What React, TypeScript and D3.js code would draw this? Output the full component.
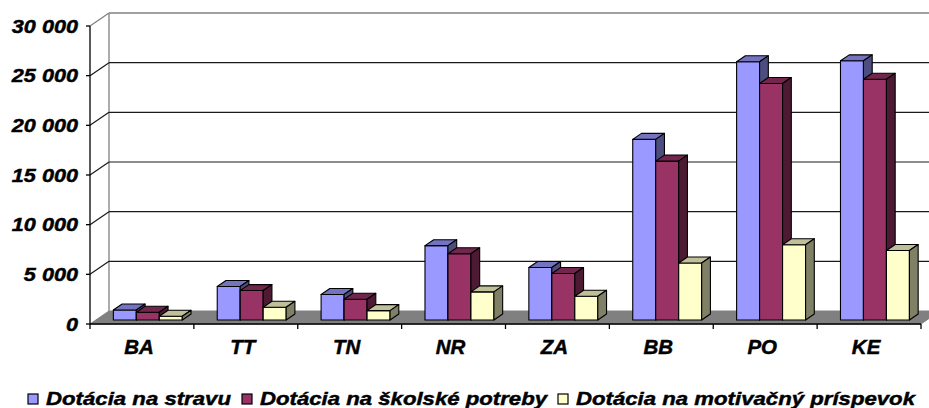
import * as d3 from "d3";

// regions and dotations (EUR)
const categories = ["BA", "TT", "TN", "NR", "ZA", "BB", "PO", "KE"];
const seriesNames = [
  "Dotácia na stravu",
  "Dotácia na školské potreby",
  "Dotácia na motivačný príspevok",
];
const stravaValues = [1000, 3370, 2560, 7480, 5280, 18180, 25990, 26090];
const potrebyValues = [780, 2960, 2090, 6670, 4680, 15990, 23810, 24240];
const motivValues = [380, 1280, 940, 2830, 2390, 5730, 7580, 7000];
const yTicks = [0, 5000, 10000, 15000, 20000, 25000, 30000];

const colors = ["#9999FF", "#993366", "#FFFFCC"];

const W = 929;
const H = 408;
const FONT = "'Liberation Sans', Arial, sans-serif";

// floor depth of the 3d box
const DX = 19;
const DY = -13;
// bar sits between these depth fractions
const T1 = 0.31;
const T2 = 0.77;

const shade = (c: string, k: number) => {
  const r = d3.rgb(c);
  return d3.rgb(r.r * k, r.g * k, r.b * k).formatHex();
};

const fmt = d3
  .formatLocale({ decimal: ",", thousands: " ", grouping: [3], currency: ["", ""] })
  .format(",d");

// heavier text like the original raster
const textStyle = {
  fontWeight: "bold",
  fontStyle: "italic",
  fontFamily: FONT,
  stroke: "#000",
  strokeWidth: 0.45,
} as const;

export default function App() {
  const seriesValues = [stravaValues, potrebyValues, motivValues];

  const x = d3.scaleBand<string>().domain(categories).range([90, 921]);
  const xs = d3
    .scaleBand<string>()
    .domain(seriesNames)
    .range([0, x.bandwidth()])
    .paddingOuter(0.76);
  const y = d3.scaleLinear().domain([0, 30000]).range([324, 26]);

  const x0 = 90;
  const x1 = 921;
  const y0 = y(0);
  const yTop = y(30000);

  const bars: JSX.Element[] = [];
  categories.forEach((cat, i) => {
    seriesNames.forEach((name, j) => {
      const v = seriesValues[j][i];
      const bx = (x(cat) ?? 0) + (xs(name) ?? 0) + T1 * DX;
      const w = xs.bandwidth();
      const yb = y0 + T1 * DY;
      const yt = y(v) + T1 * DY;
      const ddx = (T2 - T1) * DX;
      const ddy = (T2 - T1) * DY;
      const c = colors[j];
      bars.push(
        <g key={cat + j} stroke="#000" strokeWidth={1.1} strokeLinejoin="round">
          <rect x={bx} y={yt} width={w} height={yb - yt} fill={c} />
          <polygon
            points={`${bx},${yt} ${bx + ddx},${yt + ddy} ${bx + w + ddx},${yt + ddy} ${bx + w},${yt}`}
            fill={shade(c, 0.75)}
          />
          <polygon
            points={`${bx + w},${yt} ${bx + w + ddx},${yt + ddy} ${bx + w + ddx},${yb + ddy} ${bx + w},${yb}`}
            fill={shade(c, 0.5)}
          />
        </g>
      );
    });
  });

  // legend layout
  const legendWidths = [185, 287, 339];
  let lx = 28;
  const legend = seriesNames.map((name, j) => {
    const sx = lx;
    lx += 18 + legendWidths[j] + 11;
    return (
      <g key={name}>
        <rect x={sx} y={394} width={10} height={10} fill={colors[j]} stroke="#000" strokeWidth={1.2} />
        <text
          x={sx + 18}
          y={404.5}
          textLength={legendWidths[j]}
          lengthAdjust="spacingAndGlyphs"
          fontSize={18.5}
          {...textStyle}
        >
          {name}
        </text>
      </g>
    );
  });

  return (
    <svg
      width={W}
      height={H}
      style={{ position: "absolute", left: 0, top: 0, background: "#fff" }}
    >
      {/* back wall frame */}
      <line x1={x0 + DX} y1={yTop + DY} x2={W + 5} y2={yTop + DY} stroke="#808080" strokeWidth={1.3} />
      <line x1={x0} y1={yTop} x2={x0 + DX} y2={yTop + DY} stroke="#808080" strokeWidth={1.3} />
      <line x1={x0 + DX} y1={yTop + DY} x2={x0 + DX} y2={y0 + DY} stroke="#808080" strokeWidth={1.3} />

      {/* gridlines */}
      {yTicks.slice(1, -1).map((t) => (
        <g key={t} stroke="#1a1a1a" strokeWidth={1.2}>
          <line x1={x0} y1={y(t)} x2={x0 + DX} y2={y(t) + DY} />
          <line x1={x0 + DX} y1={y(t) + DY} x2={W + 5} y2={y(t) + DY} />
        </g>
      ))}

      {/* floor */}
      <polygon
        points={`${x0},${y0} ${x0 + DX},${y0 + DY} ${x1 + DX},${y0 + DY} ${x1},${y0}`}
        fill="#808080"
        stroke="#808080"
      />

      {bars}

      {/* axes */}
      <line x1={x0} y1={yTop} x2={x0} y2={y0} stroke="#000" strokeWidth={1.3} />
      <line x1={x0} y1={y0} x2={x1} y2={y0} stroke="#000" strokeWidth={1.6} />
      {yTicks.map((t) => (
        <g key={t}>
          <line x1={x0 - 4} y1={y(t)} x2={x0} y2={y(t)} stroke="#000" strokeWidth={1.3} />
          <text
            transform={`translate(78,${y(t) + 6.5}) scale(1.17,1)`}
            textAnchor="end"
            fontSize={18.5}
            {...textStyle}
          >
            {fmt(t)}
          </text>
        </g>
      ))}
      {[...categories.map((c) => x(c) ?? 0), x1].map((px, i) => (
        <line key={i} x1={px} y1={y0} x2={px} y2={y0 + 5} stroke="#000" strokeWidth={1.3} />
      ))}
      {categories.map((c) => (
        <text
          key={c}
          transform={`translate(${(x(c) ?? 0) + x.bandwidth() / 2 - 3},353.5) scale(1.05,1)`}
          textAnchor="middle"
          fontSize={19.5}
          {...textStyle}
        >
          {c}
        </text>
      ))}

      {legend}
    </svg>
  );
}
